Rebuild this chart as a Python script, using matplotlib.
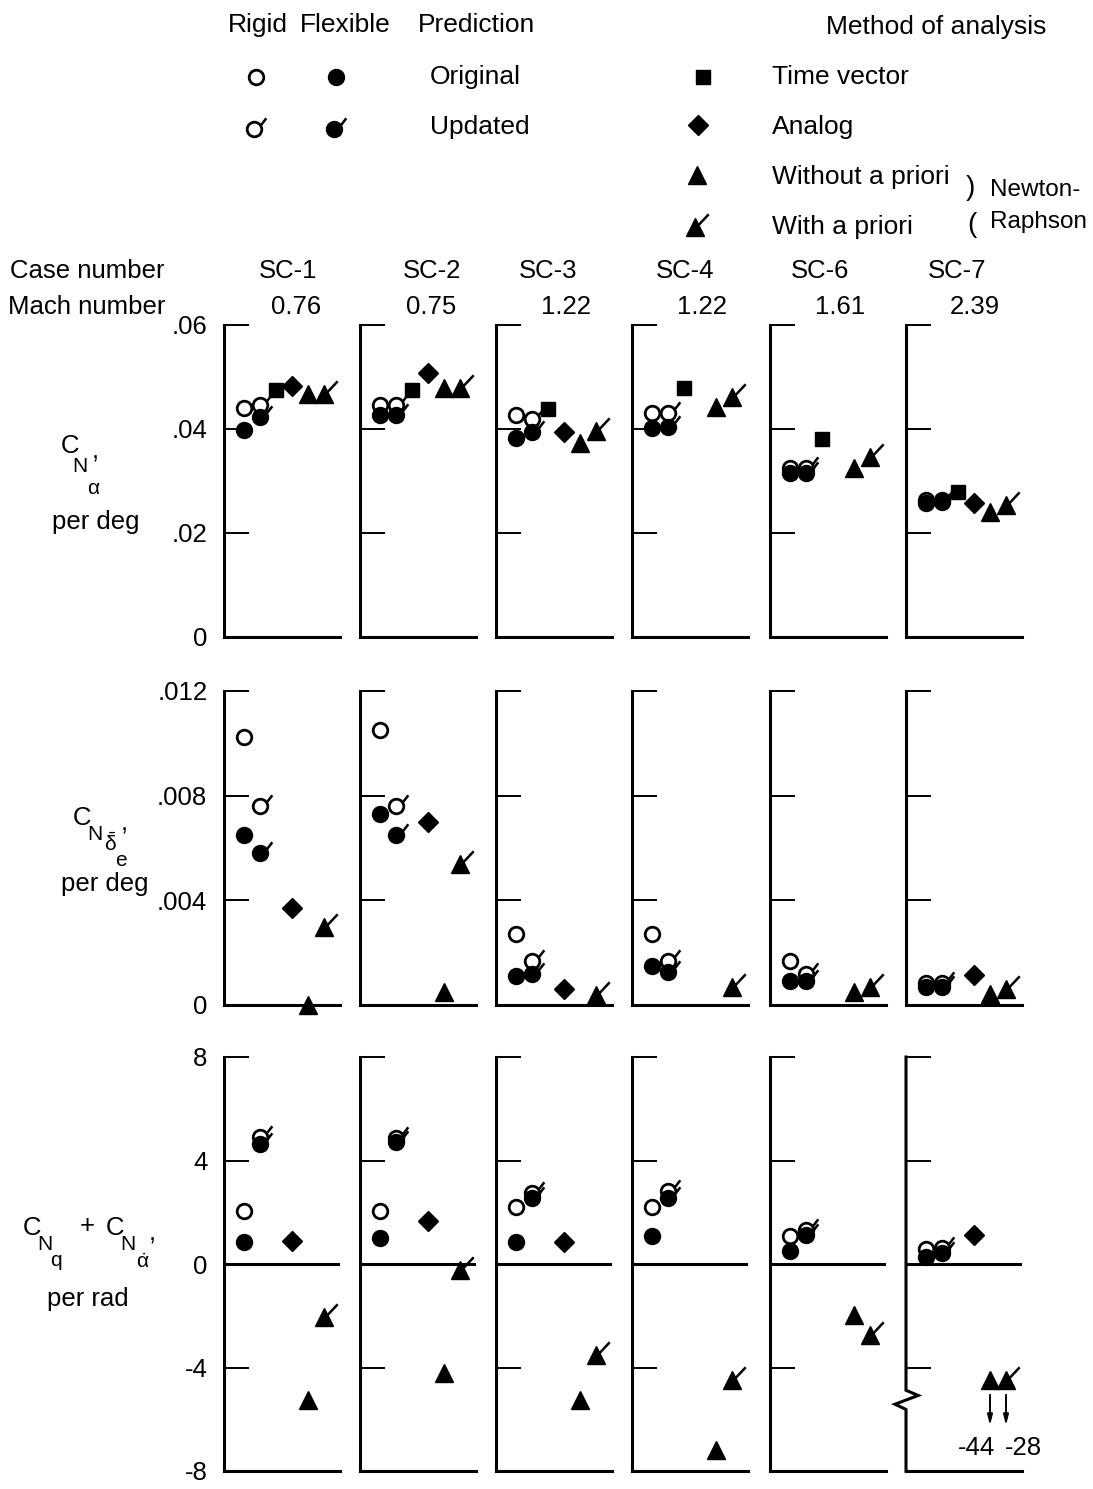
import numpy as np
import matplotlib
matplotlib.use("Agg")
import matplotlib.pyplot as plt
from matplotlib.path import Path
from matplotlib.transforms import blended_transform_factory

plt.rcParams['font.family'] = ['Liberation Sans', 'DejaVu Sans']
plt.rcParams['mathtext.fontset'] = 'custom'
plt.rcParams['mathtext.rm'] = 'Liberation Sans'
plt.rcParams['mathtext.it'] = 'Liberation Sans'
plt.rcParams['mathtext.bf'] = 'Liberation Sans:bold'

nan = np.nan

cases = ['SC-1', 'SC-2', 'SC-3', 'SC-4', 'SC-6', 'SC-7']
mach = ['0.76', '0.75', '1.22', '1.22', '1.61', '2.39']

# C_N_alpha, per deg
cna_rigid_orig = [0.0440, 0.0446, 0.0427, 0.0431, 0.0325, 0.0263]
cna_flex_orig = [0.0398, 0.0427, 0.0383, 0.0402, 0.0315, 0.0258]
cna_rigid_upd = [0.0446, 0.0446, 0.0420, 0.0430, 0.0325, 0.0263]
cna_flex_upd = [0.0423, 0.0427, 0.0394, 0.0404, 0.0315, 0.0260]
cna_time_vector = [0.0475, 0.0475, 0.0438, 0.0479, 0.0381, 0.0279]
cna_analog = [0.0483, 0.0508, 0.0394, nan, nan, 0.0258]
cna_nr_without = [0.0467, 0.0479, 0.0373, 0.0442, 0.0325, 0.0240]
cna_nr_with = [0.0467, 0.0479, 0.0396, 0.0462, 0.0346, 0.0254]

# C_N_delta_e, per deg
cnd_rigid_orig = [0.01025, 0.0105, 0.0027, 0.0027, 0.00167, 0.00083]
cnd_flex_orig = [0.0065, 0.0073, 0.0011, 0.0015, 0.0009, 0.00067]
cnd_rigid_upd = [0.0076, 0.0076, 0.0017, 0.0017, 0.0012, 0.00083]
cnd_flex_upd = [0.0058, 0.0065, 0.0012, 0.00126, 0.0009, 0.00067]
cnd_time_vector = [nan, nan, nan, nan, nan, nan]
cnd_analog = [0.0037, 0.0070, 0.0006, nan, nan, 0.00114]
cnd_nr_without = [0.0, 0.0005, -0.00015, -0.0002, 0.00048, 0.00042]
cnd_nr_with = [0.0030, 0.0054, 0.0004, 0.00067, 0.00067, 0.0006]

# C_N_q + C_N_alphadot, per rad
cnq_rigid_orig = [2.04, 2.04, 2.19, 2.19, 1.08, 0.58]
cnq_flex_orig = [0.85, 1.0, 0.85, 1.08, 0.5, 0.27]
cnq_rigid_upd = [4.9, 4.88, 2.73, 2.81, 1.31, 0.62]
cnq_flex_upd = [4.65, 4.7, 2.54, 2.54, 1.12, 0.42]
cnq_time_vector = [nan, nan, nan, nan, nan, nan]
cnq_analog = [0.88, 1.65, 0.85, nan, nan, 1.12]
cnq_nr_without = [-5.27, -4.23, -5.27, -7.19, -1.96, -44.0]
cnq_nr_with = [-2.04, -0.23, -3.5, -4.5, -2.73, -28.0]

# layout (pixels of the 1093x1489 canvas)
W, H = 1093, 1489
panel_left = [224, 360, 496, 632, 770, 906]
panel_w = 116
row_px = [(325, 637), (691, 1005), (1057, 1471)]
row_ylim = [(0, 0.06), (0, 0.012), (-8, 8)]
row_ticks = [[0, 0.02, 0.04, 0.06], [0, 0.004, 0.008, 0.012], [-8, -4, 0, 4, 8]]
row_ticklabels = [['0', '.02', '.04', '.06'], ['0', '.004', '.008', '.012'],
                  ['-8', '-4', '0', '4', '8']]
offscale_y = -4.5

FS = 18.5
SFS = 15

flag_circle = Path([(0.5, 0.3), (1.0, 0.95)], [Path.MOVETO, Path.LINETO])
flag_tri = Path([(0.2, 0.15), (1.0, 1.0)], [Path.MOVETO, Path.LINETO])

STYLES = {
    'rigid': dict(marker='o', ms=10.5, mfc='white', mec='k', mew=2.0),
    'flex': dict(marker='o', ms=11.5, mfc='k', mec='k', mew=1.0),
    'square': dict(marker='s', ms=10.5, mfc='k', mec='k', mew=1.0),
    'diamond': dict(marker='D', ms=10, mfc='k', mec='k', mew=1.0),
    'tri': dict(marker='^', ms=12.5, mfc='k', mec='k', mew=1.0),
}
FLAGS = {
    'rigid': (flag_circle, 17),
    'flex': (flag_circle, 17),
    'tri': (flag_tri, 19),
}


def plot_sym(ax, x, y, kind, flag=False):
    ax.plot(x, y, linestyle='none', clip_on=False, zorder=3, **STYLES[kind])
    if flag:
        path, ms = FLAGS[kind]
        ax.plot(x, y, linestyle='none', marker=path, ms=ms, mfc='none',
                mec='k', mew=1.8, clip_on=False, zorder=3)


rows = [
    [cna_rigid_orig, cna_flex_orig, cna_rigid_upd, cna_flex_upd,
     cna_time_vector, cna_analog, cna_nr_without, cna_nr_with],
    [cnd_rigid_orig, cnd_flex_orig, cnd_rigid_upd, cnd_flex_upd,
     cnd_time_vector, cnd_analog, cnd_nr_without, cnd_nr_with],
    [cnq_rigid_orig, cnq_flex_orig, cnq_rigid_upd, cnq_flex_upd,
     cnq_time_vector, cnq_analog, cnq_nr_without, cnq_nr_with],
]
# slot on the x axis for each series, and how it is drawn
series_slot = [1, 1, 2, 2, 3, 4, 5, 6]
series_kind = ['rigid', 'flex', 'rigid', 'flex', 'square', 'diamond', 'tri', 'tri']
series_flag = [False, False, True, True, False, False, False, True]
draw_order = [0, 2, 1, 3, 4, 5, 6, 7]

fig = plt.figure(figsize=(W / 100, H / 100), dpi=100)

for r, (top, bot) in enumerate(row_px):
    lo, hi = row_ylim[r]
    for c, left in enumerate(panel_left):
        ax = fig.add_axes([left / W, 1 - bot / H, panel_w / W, (bot - top) / H])
        ax.set_xlim(-0.25, 7.0)
        ax.set_ylim(lo, hi)
        for s in ('top', 'right'):
            ax.spines[s].set_visible(False)
        for s in ('left', 'bottom'):
            ax.spines[s].set_linewidth(2.2)
        ax.set_xticks([])
        ax.set_yticks(row_ticks[r])
        ax.tick_params(axis='y', direction='in', length=18, width=1.4,
                       labelsize=FS, pad=12)
        if c == 0:
            ax.set_yticklabels(row_ticklabels[r])
        else:
            ax.set_yticklabels([])
        if r == 2:
            ax.axhline(0, color='k', lw=2.2, zorder=2.5)

        for i in draw_order:
            v = rows[r][i][c]
            if np.isnan(v):
                continue
            x = series_slot[i]
            yv = v if v >= lo else offscale_y
            plot_sym(ax, [x], [yv], series_kind[i], series_flag[i])
            if v < lo:
                ax.annotate('', xy=(x, -6.35), xytext=(x, -4.95),
                            arrowprops=dict(arrowstyle='-|>,head_width=0.15,head_length=0.6',
                                            color='k', lw=1.4))
                lab = '%d' % v
                if series_flag[i]:
                    ax.text(x - 0.1, -7.1, lab, ha='left', va='center', fontsize=FS)
                else:
                    ax.text(x + 0.35, -7.1, lab, ha='right', va='center', fontsize=FS)

        if r == 2 and c == 5:
            # broken scale on the left axis
            ax.spines['left'].set_visible(False)
            tr = blended_transform_factory(ax.transAxes, ax.transData)
            ax.plot([0, 0, 0.105, -0.095, 0, 0], [8, -4.88, -5.08, -5.42, -5.62, -8],
                    color='k', lw=2.2, transform=tr, clip_on=False,
                    solid_joinstyle='miter')

# overlay for legend and labels
ov = fig.add_axes([0, 0, 1, 1])
ov.set_xlim(0, W)
ov.set_ylim(H, 0)
ov.axis('off')


def t(x, y, s, fs=FS, ha='left'):
    ov.text(x, y, s, fontsize=fs, va='center', ha=ha)


LFS = 19
t(228, 25, 'Rigid', LFS)
t(300, 25, 'Flexible', LFS)
t(418, 25, 'Prediction', LFS)
plot_sym(ov, [256], [77], 'rigid')
plot_sym(ov, [336], [77], 'flex')
t(430, 77, 'Original', LFS)
plot_sym(ov, [254], [129], 'rigid', True)
plot_sym(ov, [334], [129], 'flex', True)
t(430, 127, 'Updated', LFS)

t(826, 27, 'Method of analysis', LFS)
plot_sym(ov, [703], [77], 'square')
t(772, 77, 'Time vector', LFS)
plot_sym(ov, [698], [125], 'diamond')
t(772, 127, 'Analog', LFS)
plot_sym(ov, [697], [175], 'tri')
t(772, 177, 'Without a priori', LFS)
plot_sym(ov, [695], [227], 'tri', True)
t(772, 227, 'With a priori', LFS)
t(970, 188, ')', 20, ha='center')
t(972, 225, '(', 20, ha='center')
t(990, 190, 'Newton-', 17.5)
t(990, 222, 'Raphson', 17.5)

t(10, 271, 'Case number')
t(8, 307, 'Mach number')
case_x = [288, 432, 548, 685, 820, 957]
mach_x = [296, 431, 566, 702, 840, 975]
for i in range(len(cases)):
    t(case_x[i], 271, cases[i], ha='center')
    t(mach_x[i], 307, mach[i], ha='center')

# axis titles built from pieces so the subscripts keep their size
t(70, 446, 'C', ha='center')
t(80, 466, 'N', SFS, ha='center')
t(95, 452, ',', ha='center')
t(94, 488, r'$\alpha$', SFS, ha='center')
t(96, 522, 'per deg', ha='center')

t(82, 818, 'C', ha='center')
t(95, 834, 'N', SFS, ha='center')
t(124, 824, ',', ha='center')
t(110, 844, r'$\bar{\delta}$', SFS, ha='center')
t(121, 860, 'e', SFS, ha='center')
t(105, 884, 'per deg', ha='center')

t(32, 1228, 'C', ha='center')
t(45, 1244, 'N', SFS, ha='center')
t(56, 1261, 'q', SFS, ha='center')
t(87, 1226, '+', ha='center')
t(115, 1228, 'C', ha='center')
t(128, 1244, 'N', SFS, ha='center')
t(143, 1262, r'$\dot{\alpha}$', SFS, ha='center')
t(152, 1234, ',', ha='center')
t(88, 1299, 'per rad', ha='center')

fig.savefig('out.png', dpi=100)
